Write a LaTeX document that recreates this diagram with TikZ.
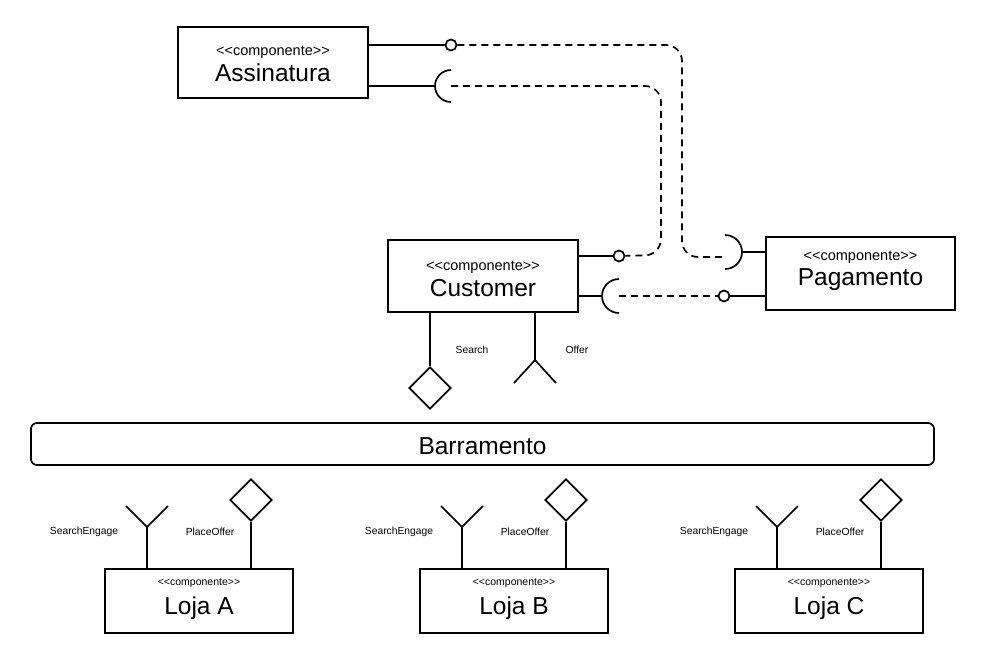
\documentclass[tikz,border=0pt]{standalone}
\usepackage{fontspec}
\setmainfont{Liberation Sans}
\usetikzlibrary{shapes.geometric}
\newcommand\stereotxt{<\kern0pt<componente>\kern0pt>}
\begin{document}
\begin{tikzpicture}[x=1pt,y=-1pt,line width=1.7pt,
 comp/.style={draw, line width=1.7pt, inner sep=0},
 stereo/.style={font=\fontsize{14.5}{16}\selectfont, inner sep=0},
 stereosm/.style={font=\fontsize{10.5}{12}\selectfont, inner sep=0},
 cname/.style={font=\fontsize{24.5}{28}\selectfont, inner sep=0},
 lbl/.style={font=\fontsize{10.3}{12}\selectfont, inner sep=0},
 lolli/.style={circle, draw, line width=1.7pt, minimum size=11pt, inner sep=0},
 prov/.style={diamond, draw, line width=1.7pt, minimum width=42pt, minimum height=42pt, inner sep=0},
 dashline/.style={dash pattern=on 7pt off 5pt, line width=1.7pt, rounded corners=16pt},
]
\useasboundingbox (0,0) rectangle (989,657);

% Assinatura
\node[comp, minimum width=190pt, minimum height=71pt] (assin) at (273,62.5) {};
\node[stereo] (assinS) at (273,52) {\stereotxt};
\node[cname] (assinN) at (273,73) {Assinatura};

% Customer
\node[comp, minimum width=190pt, minimum height=72pt] (cust) at (483,276) {};
\node[stereo] (custS) at (483,267) {\stereotxt};
\node[cname] (custN) at (483,288) {Customer};

% Pagamento
\node[comp, minimum width=189pt, minimum height=73pt] (pag) at (860.5,273.5) {};
\node[stereo] (pagS) at (860.5,257) {\stereotxt};
\node[cname] (pagN) at (860.5,280) {Pagamento};

% lollipops and sockets
\node[lolli] (l1) at (451,45) {};
\node[lolli] (l2) at (619,256) {};
\node[lolli] (l3) at (724,296) {};
\coordinate (s1) at (451,86);
\coordinate (s2) at (725,252);
\coordinate (s3) at (619,296);

\draw (assin.east |- l1) -- (l1);
\draw (assin.east |- s1) -- (435,86);
\draw (451,70) arc[start angle=90, end angle=270, radius=16pt];
\draw (cust.east |- l2) -- (l2);
\draw (cust.east |- s3) -- (602,296);
\draw (619,279) arc[start angle=90, end angle=270, radius=17pt];
\draw (l3) -- (pag.west |- l3);
\draw (742,252) -- (pag.west |- s2);
\draw (725,235) arc[start angle=90, end angle=-90, radius=17pt];

\draw[dashline] (l1) -- (682,45) -- (682,257) -- (723,257);
\draw[dashline] (s1) -- (661,86) -- (661,255) -- (l2);
\draw[dash pattern=on 7pt off 5pt] (s3) -- (l3);

% Customer ports
\node[prov] (srch) at (430,388) {};
\draw (cust.south -| srch) -- (srch);
\node[lbl] (srchL) at (472,350) {Search};
\coordinate (offr) at (535,360);
\draw (cust.south -| offr) -- (offr);
\draw (offr) -- ++(-21,23);
\draw (offr) -- ++(21,23);
\node[lbl] (offrL) at (577,350) {Offer};

% Barramento
\node[draw, line width=1.7pt, rounded corners=6pt, minimum width=903pt, minimum height=42pt, inner sep=0] (bus) at (482.5,444) {};
\node[cname] (busN) at (482.5,446) {Barramento};

% Lojas
\foreach \o/\n in {0/A,315/B,630/C}{
  \node[comp, minimum width=188pt, minimum height=64pt] (loja\n) at (199+\o,601) {};
  \node[stereosm] (loja\n S) at (199+\o,583) {\stereotxt};
  \node[cname] (loja\n N) at (199+\o,608) {Loja \n};
  \coordinate (se\n) at (147+\o,527);
  \draw (loja\n.north -| se\n) -- (se\n);
  \draw (se\n) -- ++(-21,-21);
  \draw (se\n) -- ++(21,-21);
  \node[lbl] (se\n L) at (84+\o,532) {SearchEngage};
  \node[prov] (po\n) at (251+\o,500) {};
  \draw (loja\n.north -| po\n) -- (po\n);
  \node[lbl] (po\n L) at (210+\o,532) {PlaceOffer};
}
\end{tikzpicture}
\end{document}
